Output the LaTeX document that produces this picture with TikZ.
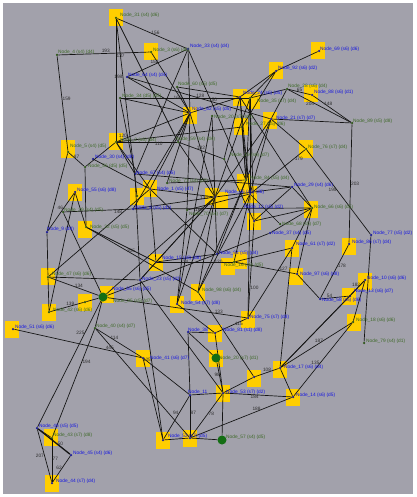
\documentclass[tikz,border=0pt]{standalone}
\usepackage{fontspec}
\setmainfont{Liberation Sans}
\usetikzlibrary{backgrounds}
\pgfdeclarelayer{front}
\pgfsetlayers{background,main,front}
\definecolor{canvas}{RGB}{162,161,171}
\definecolor{nodeyellow}{RGB}{255,206,0}
\definecolor{labblue}{RGB}{20,20,225}
\definecolor{labgreen}{RGB}{62,105,40}
\definecolor{dotblue}{RGB}{25,25,150}
\definecolor{dotgreen}{RGB}{45,85,25}
\definecolor{bigGreen}{RGB}{20,110,20}
\definecolor{wtgray}{RGB}{45,45,45}
\newcommand{\labfont}{\fontsize{4.8}{5}\selectfont}
\tikzset{
  bdot/.style={circle, fill=dotblue, draw=none, minimum size=2.5pt, inner sep=0},
  gdot/.style={circle, fill=dotgreen, draw=none, minimum size=2.5pt, inner sep=0},
  bigdot/.style={circle, fill=bigGreen, draw=none, minimum size=9pt, inner sep=0},
  blab/.style={anchor=west, text=labblue, font=\labfont, inner sep=0},
  glab/.style={anchor=west, text=labgreen, font=\labfont, inner sep=0},
  wt/.style={font=\labfont, text=wtgray, inner sep=0.3pt},
  edge/.style={draw=black!92, line width=0.68pt},
  heavy/.style={draw=black!92, line width=1.3pt},
}
\begin{document}
\begin{tikzpicture}[x=1pt,y=-1pt]
\useasboundingbox (0,0) rectangle (416,497);

% ---- vertices (dots) ----
\node[gdot] (n31) at (116,18) {};
\node[gdot] (n4)  at (57,55) {};
\node[gdot] (n3)  at (151,52) {};
\node[bdot] (n33) at (188,49) {};
\node[bdot] (n69) at (319,51) {};
\node[bdot] (n92) at (276,71) {};
\node[gdot] (n28) at (287,89) {};
\node[bdot] (n88) at (312,95) {};
\node[gdot] (n89) at (352,123) {};
\node[bdot] (n64) at (127,77) {};
\node[gdot] (n60) at (177,87) {};
\node[gdot] (n34) at (120,98) {};
\node[bdot] (n62) at (190,113) {};
\node[gdot] (n20b) at (212,116) {};
\node[bdot] (n24) at (240,97) {};
\node[gdot] (n35) at (250,98) {};
\node[bdot] (n21) at (271,119) {};
\node[gdot] (n27) at (242,127) {};
\node[gdot] (n2)  at (116,142) {};
\node[gdot] (n5)  at (68,152) {};
\node[bdot] (n30) at (93,159) {};
\node[gdot] (n56) at (85,167) {};
\node[gdot] (n59) at (178,142) {};
\node[gdot] (n19) at (224,159) {};
\node[bdot] (n67) at (135,174) {};
\node[gdot] (n71) at (167,183) {};
\node[bdot] (n1)  at (150,189) {};
\node[gdot] (n36) at (137,196) {};
\node[bdot] (n55) at (75,192) {};
\node[bdot] (n8)  at (133,209) {};
\node[gdot] (n70) at (187,210) {};
\node[bdot] (n26) at (215,197) {};
\node[gdot] (n84) at (246,180) {};
\node[bdot] (n12) at (250,194) {};
\node[bdot] (n29) at (292,187) {};
\node[gdot] (n76) at (306,149) {};
\node[gdot] (n66) at (312,208) {};
\node[bdot] (n49) at (254,221) {};
\node[gdot] (n68) at (280,224) {};
\node[bdot] (n37) at (270,233) {};
\node[bdot] (n77) at (371,235) {};
\node[bdot] (n86) at (349,244) {};
\node[bdot] (n61) at (292,248) {};
\node[gdot] (n32) at (86,227) {};
\node[bdot] (n9)  at (47,232) {};
\node[gdot] (n39) at (63,212) {};
\node[gdot] (n47) at (48,277) {};
\node[gdot] (n42) at (49,312) {};
\node[bdot] (n51) at (13,329) {};
\node[gdot] (n85) at (85,302) {};
\node[gdot] (n40) at (95,328) {};
\node[bdot] (n41) at (143,358) {};
\node[bdot] (n46) at (37,428) {};
\node[gdot] (n43) at (52,438) {};
\node[bdot] (n45) at (71,455) {};
\node[bdot] (n44) at (52,483) {};
\node[bdot] (n15) at (156,262) {};
\node[bdot] (n94) at (217,254) {};
\node[gdot] (n16) at (234,262) {};
\node[bdot] (n23) at (140,280) {};
\node[gdot] (n98) at (198,292) {};
\node[bdot] (n54) at (177,304) {};
\node[bdot] (n75) at (248,318) {};
\node[bdot] (n38) at (188,332) {};
\node[bdot] (n81) at (215,333) {};
\node[bdot] (n97) at (297,274) {};
\node[bdot] (n58) at (320,299) {};
\node[bdot] (n10) at (365,280) {};
\node[bdot] (n13) at (350,296) {};
\node[gdot] (n18) at (353,322) {};
\node[gdot] (n79) at (364,343) {};
\node[bdot] (n17) at (280,368) {};
\node[bdot] (n14) at (293,397) {};
\node[bdot] (n48) at (254,377) {};
\node[bdot] (n53) at (223,393) {};
\node[bdot] (n11) at (190,395) {};
\node[bdot] (n52) at (163,440) {};
\node[bdot] (n73) at (190,438) {};
\begin{pgfonlayer}{front}
\node[bigdot] (n65) at (103,297) {};
\node[bigdot] (n20) at (216,358) {};
\node[bigdot] (n57) at (222,440) {};
\end{pgfonlayer}

% ---- canvas and yellow squares behind the vertices ----
\begin{pgfonlayer}{background}
\fill[white] (0,0) rectangle (416,497);
\fill[canvas] (3,3) rectangle (413,494);
\foreach \p in {(116,18),(151,52),(318,51),(276,71),(311,94),(190,116),(240,98),(253,101),
  (270,121),(241,127),(116,142),(68,149),(150,188),(137,196),(75,192),(212,196),(221,200),
  (244,182),(250,194),(306,149),(311,209),(254,221),(349,246),(292,248),(85,229),(48,276),
  (49,312),(12,329),(107,294),(85,302),(143,358),(51,437),(52,483),(156,262),(228,266),
  (240,260),(198,292),(177,304),(248,319),(215,333),(216,358),(296,276),(365,281),(349,296),
  (354,322),(280,369),(293,397),(254,378),(223,393),(163,440),(190,438)}
  \fill[nodeyellow] \p ++(-7,-8.5) rectangle ++(14,17);
\end{pgfonlayer}

% ---- connectors ----
\draw[edge] (n4) -- node[wt,above,pos=0.52]{193} (n3);
\draw[edge] (n4) -- node[wt,right,pos=0.45]{159} (n5);
\draw[edge] (n31) -- node[wt,above,pos=0.55]{156} (n33);
\draw[edge] (n31) -- node[wt,right,pos=0.3]{137} (n2);
\draw[edge] (n31) -- node[wt,left,pos=0.33]{198} (n36);
\draw[edge] (n33) -- (n67);
\draw[edge] (n33) -- (n84);
\draw[edge] (n33) -- (n62);
\draw[edge] (n64) -- node[wt,above,pos=0.45]{152} (n33);
\draw[edge] (n64) -- node[wt,above,pos=0.6]{150} (n21);
\draw[edge] (n34) -- node[wt,above,pos=0.62]{128} (n35);
\draw[edge] (n60) -- node[wt,left,pos=0.4]{160} (n62);
\draw[edge] (n60) -- (n24);
\draw[edge] (n69) -- (n92);
\draw[edge] (n92) -- (n24);
\draw[edge] (n92) -- (n35);
\draw[edge] (n92) -- (n27);
\draw[edge] (n28) -- node[wt,below,pos=0.35]{204} (n89);
\draw[edge] (n88) -- node[wt,above,pos=0.4]{148} (n89);
\draw[edge] (n28) -- node[wt,above,pos=0.5]{65} (n88);
\draw[edge] (n28) -- (n21);
\draw[edge] (n28) -- (n35);
\draw[edge] (n89) -- (n21);
\draw[edge] (n89) -- node[wt,right,pos=0.5]{203} (n86);
\draw[edge] (n76) -- node[wt,left,pos=0.48]{195} (n77);
\draw[edge] (n76) -- node[wt,right,pos=0.2]{179} (n12);
\draw[edge] (n76) -- (n21);
\draw[edge] (n77) -- (n79);
\draw[edge] (n86) -- node[wt,right,pos=0.4]{178} (n58);
\draw[edge] (n97) -- (n58);
\draw[edge] (n66) -- (n61);
\draw[edge] (n66) -- (n97);
\draw[edge] (n66) -- (n37);
\draw[edge] (n66) -- (n49);
\draw[edge] (n66) -- (n29);
\draw[edge] (n66) -- (n24);
\draw[edge] (n10) -- node[wt,left,pos=0.25]{182} (n13);
\draw[edge] (n10) -- (n17);
\draw[edge] (n13) -- (n17);
\draw[edge] (n18) -- node[wt,left,pos=0.4]{187} (n17);
\draw[edge] (n18) -- node[wt,left,pos=0.55]{135} (n14);
\draw[edge] (n10) -- (n18);
\draw[edge] (n17) -- (n14);
\draw[edge] (n14) -- node[wt,below,pos=0.55]{184} (n53);
\draw[edge] (n14) -- node[wt,above,pos=0.35]{188} (n73);
\draw[edge] (n48) -- node[wt,above,pos=0.5]{108} (n17);
\draw[edge] (n48) -- (n53);
\draw[edge] (n53) -- node[wt,right,pos=0.45]{78} (n73);
\draw[edge] (n11) -- node[wt,right,pos=0.4]{87} (n73);
\draw[edge] (n11) -- node[wt,left,pos=0.4]{94} (n52);
\draw[edge] (n11) -- (n53);
\draw[edge] (n52) -- (n73);
\draw[edge] (n81) -- node[wt,left,pos=0.7]{98} (n53);
\draw[edge] (n81) -- node[wt,right,pos=0.6]{115} (n75);
\draw[edge] (n38) -- (n81);
\draw[edge] (n51) -- node[wt,above,pos=0.75]{445} (n41);
\draw[edge] (n47) -- (n42);
\draw[edge] (n47) -- node[wt,above,pos=0.6]{134} (n65);
\draw[edge] (n42) -- node[wt,above,pos=0.6]{139} (n85);
\draw[edge] (n85) -- (n65);
\draw[edge] (n65) -- (n40);
\draw[edge] (n47) -- (n9);
\draw[edge] (n9) -- (n5);
\draw[edge] (n5) -- node[wt,above,pos=0.5]{87} (n56);
\draw[edge] (n56) -- (n2);
\draw[edge] (n56) -- (n32);
\draw[edge] (n55) -- (n32);
\draw[edge] (n39) -- (n65);
\draw[edge] (n46) -- node[wt,left,pos=0.75]{225} (n65);
\draw[edge] (n43) -- node[wt,right,pos=0.7]{194} (n40);
\draw[edge] (n46) -- (n43);
\draw[edge] (n46) -- node[wt,left,pos=0.5]{207} (n44);
\draw[heavy] (n46) -- node[wt,above,pos=0.7]{50} (n45);
\draw[edge] (n43) -- node[wt,right,pos=0.45]{77} (n44);
\draw[edge] (n45) -- node[wt,left,pos=0.45]{62} (n44);
\draw[edge] (n40) -- node[wt,above,pos=0.4]{114} (n41);
\draw[edge] (n41) -- (n11);
\draw[edge] (n41) -- (n52);
\draw[edge] (n65) -- (n26);
\draw[edge] (n65) -- (n94);
\draw[edge] (n65) -- node[wt,above,pos=0.8]{133} (n75);
\draw[edge] (n47) -- (n23);
\draw[edge] (n47) -- (n1);
\draw[edge] (n42) -- (n55);
\draw[edge] (n15) -- (n94);
\draw[edge] (n15) -- (n23);
\draw[edge] (n15) -- (n1);
\draw[edge] (n15) -- node[wt,right,pos=0.3]{114} (n16);
\draw[edge] (n23) -- node[wt,left,pos=0.5]{425} (n52);
\draw[edge] (n54) -- node[wt,right,pos=0.5]{169} (n20b);
\draw[edge] (n54) -- (n81);
\draw[edge] (n1) -- (n94);
\draw[edge] (n1) -- node[wt,below,pos=0.85]{130} (n26);
\draw[edge] (n8) -- (n26);
\draw[edge] (n8) -- (n66);
\draw[edge] (n70) -- (n12);
\draw[edge] (n62) -- (n2);
\draw[edge] (n62) -- (n59);
\draw[edge] (n62) -- (n24);
\draw[edge] (n62) -- (n1);
\draw[edge] (n62) -- (n26);
\draw[edge] (n62) -- (n64);
\draw[edge] (n62) -- (n34);
\draw[edge] (n62) -- (n70);
\draw[edge] (n62) -- (n71);
\draw[edge] (n62) -- (n8);
\draw[edge] (n20b) -- (n94);
\draw[edge] (n24) -- (n19);
\draw[edge] (n24) -- (n84);
\draw[edge] (n35) -- (n84);
\draw[edge] (n35) -- (n12);
\draw[edge] (n35) -- (n49);
\draw[edge] (n27) -- (n84);
\draw[edge] (n27) -- (n12);
\draw[edge] (n24) -- (n12);
\draw[edge] (n35) -- (n26);
\draw[edge] (n21) -- (n12);
\draw[edge] (n21) -- (n84);
\draw[edge] (n21) -- (n26);
\draw[edge] (n84) -- (n94);
\draw[edge] (n84) -- (n98);
\draw[edge] (n12) -- node[wt,right,pos=0.7]{120} (n98);
\draw[edge] (n12) -- (n16);
\draw[edge] (n26) -- (n98);
\draw[edge] (n26) -- (n15);
\draw[edge] (n26) -- (n23);
\draw[edge] (n26) -- (n54);
\draw[edge] (n49) -- node[wt,right,pos=0.7]{100} (n75);
\draw[edge] (n12) -- (n75);
\draw[edge] (n61) -- (n17);
\draw[edge] (n61) -- (n75);
\draw[edge] (n29) -- (n49);
\draw[edge] (n29) -- (n26);
\draw[edge] (n2) -- (n1);
\draw[edge] (n2) -- (n67);
\draw[edge] (n2) -- (n27);
\draw[edge] (n67) -- (n29);
\draw[edge] (n2) -- node[wt,below,pos=0.7]{110} (n59);
\draw[edge] (n59) -- node[wt,above,pos=0.5]{182} (n19);
\draw[edge] (n59) -- (n26);
\draw[edge] (n34) -- node[wt,left,pos=0.5]{120} (n67);
\draw[edge] (n30) -- (n1);
\draw[edge] (n39) -- node[wt,below,pos=0.8]{148} (n8);
\draw[edge] (n32) -- node[wt,above,pos=0.4]{205} (n98);
\draw[edge] (n32) -- (n15);
\draw[edge] (n9) -- node[wt,left,pos=0.6]{46} (n55);
\draw[edge] (n71) -- (n84);
\draw[edge] (n70) -- (n54);
\draw[edge] (n67) -- (n23);
\draw[edge] (n19) -- (n49);
\draw[edge] (n68) -- (n12);
\draw[edge] (n37) -- (n94);
\draw[edge] (n97) -- node[wt,above,pos=0.2]{127} (n16);
\draw[edge] (n61) -- (n16);
\draw[edge] (n58) -- node[wt,above,pos=0.3]{54} (n13);
\draw[edge] (n98) -- (n48);
\draw[edge] (n38) -- (n11);
\draw[edge] (n23) -- (n53);
\draw[edge] (n40) -- (n73);
\draw[edge] (n3) -- (n62);
\draw[edge] (n31) -- (n59);
\draw[edge] (n20) -- (n53);
\draw[edge] (n20) -- (n38);
\draw[edge] (n53) -- (n57);
\draw[edge] (n73) -- (n57);

% ---- vertex labels ----
\begin{pgfonlayer}{front}
\node[glab] (l31) at (120,15) {Node\_31 (s4) (d6)};
\node[glab] (l4)  at (58,52) {Node\_4 (s4) (d4)};
\node[glab] (l3)  at (153,50) {Node\_3 (s6) (d6)};
\node[blab] (l33) at (190,46) {Node\_33 (s4) (d4)};
\node[blab] (l69) at (320,49) {Node\_69 (s6) (d6)};
\node[blab] (l92) at (278,68) {Node\_92 (s6) (d2)};
\node[glab] (l28) at (288,86) {Node\_28 (s6) (d4)};
\node[blab] (l88) at (314,92) {Node\_88 (s6) (d1)};
\node[glab] (l89) at (353,121) {Node\_89 (s5) (d8)};
\node[blab] (l64) at (128,75) {Node\_64 (s4) (d4)};
\node[glab] (l60) at (178,84) {Node\_60 (s5) (d5)};
\node[glab] (l34) at (122,96) {Node\_34 (d5) (d5)};
\node[blab] (l62) at (192,109) {Node\_62 (s5) (d5)};
\node[glab] (l20b) at (214,117) {Node\_20 (s7) (d4)};
\node[blab] (l24) at (243,93) {Node\_24 (s6) (d5)};
\node[glab] (l35) at (257,101) {Node\_35 (s7) (d4)};
\node[blab] (l21) at (276,118) {Node\_21 (s7) (d7)};
\node[glab] (l27) at (246,124) {Node\_27 (s5) (d6)};
\node[glab] (l2)  at (120,140) {Node\_2 (s6) (d4)};
\node[glab] (l5)  at (70,146) {Node\_5 (s4) (d5)};
\node[blab] (l30) at (95,157) {Node\_30 (s4) (d8)};
\node[glab] (l56) at (88,166) {Node\_56 (d5) (d5)};
\node[glab] (l59) at (176,139) {Node\_59 (s4) (d4)};
\node[glab] (l19) at (230,155) {Node\_19 (s6) (d7)};
\node[blab] (l67) at (136,173) {Node\_67 (s4) (d5)};
\node[glab] (l71) at (169,181) {Node\_71 (s4) (d7)};
\node[blab] (l1)  at (157,189) {Node\_1 (s5) (d7)};
\node[blab] (l55) at (77,190) {Node\_55 (s6) (d8)};
\node[blab] (l8)  at (135,208) {Node\_8 (s5) (d2)};
\node[glab] (l70) at (189,214) {Node\_70 (s4) (d7)};
\node[blab] (l26) at (225,192) {Node\_26 (s6) (d6)};
\node[glab] (l84) at (250,178) {Node\_84 (s5) (d4)};
\node[blab] (l12) at (244,207) {Node\_12 (s5) (d2)};
\node[blab] (l29) at (294,185) {Node\_29 (s4) (d6)};
\node[glab] (l76) at (308,147) {Node\_76 (s7) (d4)};
\node[glab] (l66) at (314,207) {Node\_66 (s6) (d5)};
\node[glab] (l68) at (282,224) {Node\_68 (s5) (d7)};
\node[blab] (l37) at (272,233) {Node\_37 (s4) (d5)};
\node[blab] (l77) at (373,233) {Node\_77 (s5) (d2)};
\node[blab] (l86) at (352,242) {Node\_86 (s7) (d4)};
\node[blab] (l61) at (296,244) {Node\_61 (s7) (d2)};
\node[glab] (l32) at (90,227) {Node\_32 (s5) (d5)};
\node[blab] (l9)  at (47,229) {Node\_9 (d8)};
\node[glab] (l39) at (64,210) {Node\_39 (s4) (d5)};
\node[glab] (l47) at (52,274) {Node\_47 (s6) (d6)};
\node[glab] (l42) at (53,310) {Node\_42 (s6) (d6)};
\node[blab] (l51) at (15,327) {Node\_51 (s6) (d6)};
\node[blab] (l65) at (112,289) {Node\_65 (s6) (d5)};
\node[glab] (l85) at (113,301) {Node\_85 (s5) (d7)};
\node[glab] (l40) at (96,326) {Node\_40 (s4) (d7)};
\node[blab] (l41) at (150,358) {Node\_41 (s6) (d7)};
\node[blab] (l46) at (39,426) {Node\_46 (s5) (d5)};
\node[glab] (l43) at (53,435) {Node\_43 (s7) (d8)};
\node[blab] (l45) at (73,453) {Node\_45 (s4) (d6)};
\node[blab] (l44) at (56,481) {Node\_44 (s7) (d4)};
\node[blab] (l15) at (162,258) {Node\_15 (s8) (d8)};
\node[blab] (l94) at (219,253) {Node\_94 (s5) (d4)};
\node[glab] (l16) at (224,265) {Node\_16 (s6) (d5)};
\node[blab] (l23) at (142,279) {Node\_23 (s5) (d2)};
\node[glab] (l98) at (202,290) {Node\_98 (s6) (d4)};
\node[blab] (l54) at (181,303) {Node\_54 (s7) (d8)};
\node[blab] (l75) at (250,317) {Node\_75 (s7) (d8)};
\node[blab] (l38) at (188,330) {Node\_38};
\node[blab] (l81) at (223,330) {Node\_81 (s1) (d8)};
\node[glab] (l20) at (219,358) {Node\_20 (s7) (d1)};
\node[blab] (l97) at (300,274) {Node\_97 (s6) (d8)};
\node[blab] (l58) at (322,300) {Node\_58 (s5) (d6)};
\node[blab] (l10) at (367,278) {Node\_10 (s6) (d6)};
\node[blab] (l13) at (354,291) {Node\_13 (s6) (d7)};
\node[glab] (l18) at (356,320) {Node\_18 (s6) (d6)};
\node[glab] (l79) at (366,341) {Node\_79 (s4) (d1)};
\node[blab] (l17) at (284,367) {Node\_17 (s6) (d4)};
\node[blab] (l14) at (296,395) {Node\_14 (s6) (d5)};
\node[blab] (l53) at (226,392) {Node\_53 (s7) (d2)};
\node[blab] (l11) at (188,392) {Node\_11};
\node[blab] (l52) at (168,436) {Node\_52 (s7) (d5)};
\node[glab] (l57) at (226,437) {Node\_57 (s4) (d5)};
\end{pgfonlayer}
\end{tikzpicture}
\end{document}
